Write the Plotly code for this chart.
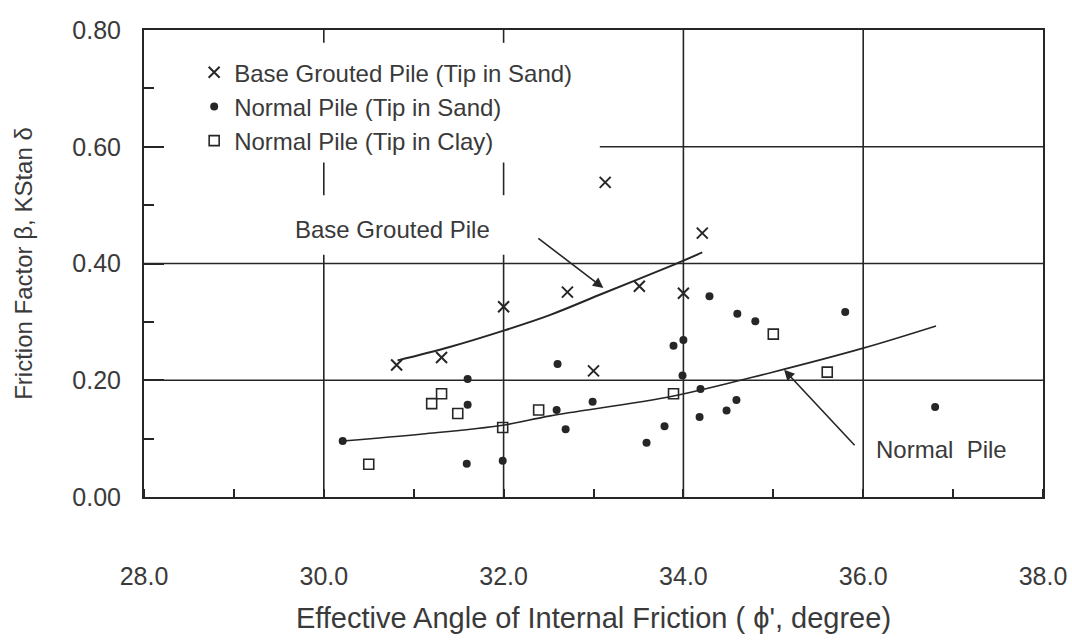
import plotly.graph_objects as go

# ---------------- data ----------------
grouted_x = [30.81, 31.31, 32.00, 32.71, 33.13, 33.51, 34.00, 34.21, 33.00]
grouted_y = [0.226, 0.239, 0.326, 0.351, 0.539, 0.361, 0.349, 0.452, 0.216]

sand_x = [30.21, 31.60, 31.60, 31.59, 31.99, 32.60, 32.59, 32.69, 32.99, 33.59,
          33.79, 33.89, 34.00, 33.99, 34.19, 34.18, 34.48, 34.59, 34.60, 34.80,
          34.29, 35.80, 36.80]
sand_y = [0.096, 0.202, 0.158, 0.057, 0.062, 0.228, 0.149, 0.116, 0.163, 0.093,
          0.121, 0.259, 0.269, 0.208, 0.185, 0.137, 0.148, 0.166, 0.314, 0.301,
          0.344, 0.317, 0.154]

clay_x = [30.50, 31.20, 31.31, 31.49, 31.99, 32.39, 33.89, 35.00, 35.60]
clay_y = [0.056, 0.160, 0.177, 0.143, 0.119, 0.149, 0.177, 0.279, 0.214]

# trend curves
grouted_curve_x = [30.82, 31.40, 32.00, 32.52, 33.11, 33.91, 34.21]
grouted_curve_y = [0.234, 0.257, 0.285, 0.312, 0.349, 0.399, 0.419]
normal_curve_x = [30.21, 31.10, 31.99, 32.52, 33.89, 34.97, 36.00, 36.81]
normal_curve_y = [0.096, 0.108, 0.123, 0.139, 0.173, 0.213, 0.255, 0.293]

x_ticks = [28.0, 30.0, 32.0, 34.0, 36.0, 38.0]
x_tick_labels = ["28.0", "30.0", "32.0", "34.0", "36.0", "38.0"]
y_ticks = [0.0, 0.2, 0.4, 0.6, 0.8]
y_tick_labels = ["0.00", "0.20", "0.40", "0.60", "0.80"]

legend_names = ["Base Grouted Pile (Tip in Sand)",
                "Normal Pile (Tip in Sand)",
                "Normal Pile (Tip in Clay)"]

# ---------------- style ----------------
INK = "#262626"
TXT = "#3a3a3a"
FONT = "Liberation Sans, Arial, sans-serif"

fig = go.Figure()

fig.add_trace(go.Scatter(
    x=grouted_curve_x, y=grouted_curve_y, mode="lines", line_shape="spline",
    line=dict(color=INK, width=2), showlegend=False, hoverinfo="skip"))
fig.add_trace(go.Scatter(
    x=normal_curve_x, y=normal_curve_y, mode="lines", line_shape="spline",
    line=dict(color=INK, width=1.6), showlegend=False, hoverinfo="skip"))

fig.add_trace(go.Scatter(
    x=grouted_x, y=grouted_y, mode="markers", name=legend_names[0],
    legendgroup="a",
    marker=dict(symbol="x-thin", size=11, line=dict(color=INK, width=2), color=INK)))
fig.add_trace(go.Scatter(
    x=sand_x, y=sand_y, mode="markers", name=legend_names[1],
    legendgroup="b",
    marker=dict(symbol="circle", size=8, color=INK)))
fig.add_trace(go.Scatter(
    x=clay_x, y=clay_y, mode="markers", name=legend_names[2],
    legendgroup="c",
    marker=dict(symbol="square-open", size=10, color=INK, line=dict(width=1.6))))

# ---------------- grid (partly interrupted, as in the original) ----------------
grid_v = [
    (30.0, 0.0, 0.415), (30.0, 0.517, 0.573), (30.0, 0.778, 0.8),
    (32.0, 0.0, 0.415), (32.0, 0.517, 0.573), (32.0, 0.778, 0.8),
    (34.0, 0.0, 0.8), (36.0, 0.0, 0.8),
]
grid_h = [(0.2, 28.0, 38.0), (0.4, 28.0, 38.0), (0.6, 33.07, 38.0)]
shapes = []
for xv, y0, y1 in grid_v:
    shapes.append(dict(type="line", xref="x", yref="y", x0=xv, x1=xv, y0=y0, y1=y1,
                       line=dict(color=INK, width=1.6), layer="below"))
for yv, x0, x1 in grid_h:
    shapes.append(dict(type="line", xref="x", yref="y", x0=x0, x1=x1, y0=yv, y1=yv,
                       line=dict(color=INK, width=1.6), layer="below"))

annotations = [
    dict(x=30.76, y=0.458, xref="x", yref="y", text="Base Grouted Pile",
         showarrow=False, font=dict(family=FONT, size=24, color=TXT)),
    dict(x=33.11, y=0.358, ax=32.37, ay=0.445, xref="x", yref="y",
         axref="x", ayref="y", text="", showarrow=True, arrowhead=2,
         arrowsize=1.3, arrowwidth=1.6, arrowcolor=INK),
    dict(x=36.12, y=0.082, xref="x", yref="y", text="Normal  Pile", xanchor="left",
         showarrow=False, font=dict(family=FONT, size=24, color=TXT)),
    dict(x=35.12, y=0.218, ax=35.92, ay=0.086, xref="x", yref="y",
         axref="x", ayref="y", text="", showarrow=True, arrowhead=2,
         arrowsize=1.3, arrowwidth=1.6, arrowcolor=INK),
]

fig.update_layout(
    width=1072, height=640,
    margin=dict(l=144, r=29, t=30, b=143),
    paper_bgcolor="white", plot_bgcolor="white",
    font=dict(family=FONT, color=TXT),
    shapes=shapes, annotations=annotations,
    legend=dict(x=0.0558, y=0.957, xanchor="left", yanchor="top",
                font=dict(family=FONT, size=24, color=TXT),
                bgcolor="rgba(0,0,0,0)", tracegroupgap=0, itemwidth=30),
    xaxis=dict(range=[28, 38], tickvals=x_ticks, ticktext=x_tick_labels,
               automargin=False,
               showgrid=False, zeroline=False, showline=True, mirror=True,
               linecolor=INK, linewidth=2, ticks="",
               minor=dict(dtick=1, tick0=28, ticks="inside", ticklen=8,
                          tickcolor=INK, tickwidth=1.6, showgrid=False),
               ticklabelstandoff=56,
               tickfont=dict(family=FONT, size=25, color=TXT),
               title=dict(text="Effective Angle of Internal Friction ( \u03d5', degree)",
                          font=dict(family=FONT, size=29, color=TXT), standoff=19)),
    yaxis=dict(range=[0, 0.8], tickvals=y_ticks, ticktext=y_tick_labels,
               automargin=False,
               showgrid=False, zeroline=False, showline=True, mirror=True,
               linecolor=INK, linewidth=2, ticks="inside", ticklen=20,
               tickcolor=INK, tickwidth=1.6,
               minor=dict(dtick=0.1, tick0=0, ticks="inside", ticklen=10,
                          tickcolor=INK, tickwidth=1.6, showgrid=False),
               ticklabelstandoff=16,
               tickfont=dict(family=FONT, size=25, color=TXT),
               title=dict(text="Friction Factor \u03b2, KStan \u03b4",
                          font=dict(family=FONT, size=24, color=TXT), standoff=33)),
)

fig.write_html("out.html")
